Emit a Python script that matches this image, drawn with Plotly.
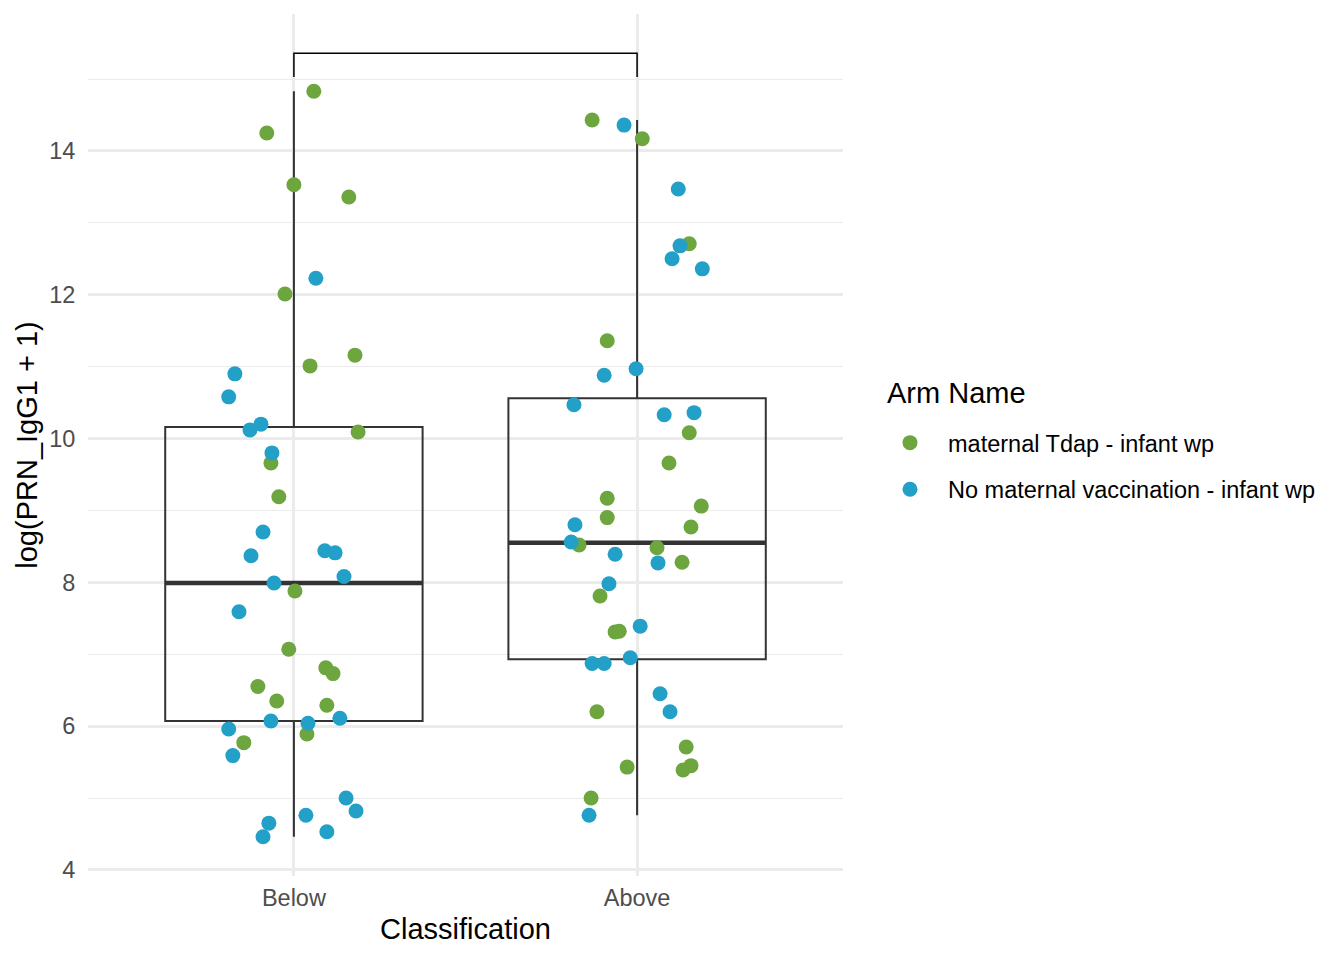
import plotly.graph_objects as go

# ---------------- data ----------------
categories = ["Below", "Above"]
cat_pos = [1, 2]
arms = ["maternal Tdap - infant wp", "No maternal vaccination - infant wp"]
arm_colors = ["#6DA53E", "#23A0C7"]
legend_title = "Arm Name"

# Below / maternal Tdap
below_tdap_y = [14.83, 14.25, 13.53, 13.36, 12.01, 11.01, 11.16, 10.09, 9.66, 9.19,
                7.88, 7.07, 6.81, 6.73, 6.55, 6.35, 6.29, 5.77, 5.89]
below_tdap_jit = [0.058, -0.079, 0.0, 0.160, -0.026, 0.047, 0.178, 0.187, -0.067, -0.044,
                  0.003, -0.015, 0.093, 0.114, -0.105, -0.050, 0.096, -0.146, 0.038]
# Below / No maternal vaccination
below_none_y = [12.23, 10.90, 10.58, 10.12, 10.20, 9.80, 8.70, 8.37, 8.44, 8.41, 8.08, 7.99,
                7.59, 6.07, 5.96, 6.04, 6.11, 5.59, 5.00, 4.82, 4.76, 4.65, 4.46, 4.53]
below_none_jit = [0.064, -0.172, -0.190, -0.128, -0.096, -0.064, -0.090, -0.125, 0.090, 0.120,
                  0.146, -0.058, -0.160, -0.067, -0.190, 0.041, 0.134, -0.178, 0.152, 0.181,
                  0.035, -0.073, -0.090, 0.096]
# Above / maternal Tdap
above_tdap_y = [14.43, 14.17, 12.71, 11.36, 10.08, 9.66, 9.17, 9.06, 8.90, 8.77, 8.52, 8.48,
                8.28, 7.81, 7.31, 7.32, 6.20, 5.71, 5.45, 5.39, 5.43, 5.00]
above_tdap_jit = [-0.131, 0.015, 0.152, -0.087, 0.152, 0.093, -0.087, 0.187, -0.087, 0.157,
                  -0.169, 0.058, 0.131, -0.108, -0.064, -0.052, -0.117, 0.143, 0.157, 0.134,
                  -0.029, -0.134]
# Above / No maternal vaccination
above_none_y = [14.36, 13.47, 12.68, 12.50, 12.36, 10.88, 10.97, 10.47, 10.33, 10.36, 8.80,
                8.56, 8.39, 8.27, 7.98, 7.39, 6.87, 6.87, 6.95, 6.45, 6.20, 4.76]
above_none_jit = [-0.038, 0.120, 0.125, 0.102, 0.190, -0.096, -0.003, -0.184, 0.079, 0.166,
                  -0.181, -0.192, -0.064, 0.061, -0.082, 0.009, -0.131, -0.096, -0.020, 0.067,
                  0.096, -0.140]

# box statistics per category
box_lower = [4.46, 4.76]
box_q1 = [6.07, 6.93]
box_median = [7.99, 8.55]
box_q3 = [10.16, 10.56]
box_upper = [14.83, 14.43]

# significance bracket
bracket_low = 15.03
bracket_high = 15.36

BOX_W = 0.75
FONT = "Liberation Sans, Arial, Helvetica, sans-serif"

fig = go.Figure()

# boxes
fig.add_trace(go.Box(
    x=cat_pos, q1=box_q1, median=box_median, q3=box_q3,
    lowerfence=box_lower, upperfence=box_upper,
    width=BOX_W, whiskerwidth=0, boxpoints=False,
    line=dict(color="#333333", width=2), fillcolor="rgba(0,0,0,0)",
    showlegend=False, hoverinfo="skip"))

# thicker median bars (ggplot fatten)
mx, my = [], []
for p, m in zip(cat_pos, box_median):
    mx += [p - BOX_W / 2, p + BOX_W / 2, None]
    my += [m, m, None]
fig.add_trace(go.Scatter(x=mx, y=my, mode="lines",
                         line=dict(color="#333333", width=4.5),
                         showlegend=False, hoverinfo="skip"))

# bracket
fig.add_trace(go.Scatter(x=[cat_pos[0], cat_pos[0], cat_pos[1], cat_pos[1]],
                         y=[bracket_low, bracket_high, bracket_high, bracket_low],
                         mode="lines", line=dict(color="black", width=1.5),
                         showlegend=False, hoverinfo="skip"))

# points
groups = [
    (arms[0], arm_colors[0], [(0, below_tdap_jit, below_tdap_y), (1, above_tdap_jit, above_tdap_y)]),
    (arms[1], arm_colors[1], [(0, below_none_jit, below_none_y), (1, above_none_jit, above_none_y)]),
]
for name, col, parts in groups:
    xs, ys = [], []
    for ci, jit, yv in parts:
        xs += [cat_pos[ci] + j for j in jit]
        ys += yv
    fig.add_trace(go.Scatter(x=xs, y=ys, mode="markers", name=name, legendgroup=name,
                             marker=dict(color=col, size=15, line=dict(width=0))))

fig.add_annotation(text=legend_title, xref="paper", yref="paper",
                   x=1.0556, y=0.5603, xanchor="left", yanchor="middle",
                   showarrow=False, font=dict(size=29, color="black"))

fig.update_layout(
    width=1344, height=960,
    margin=dict(l=80, r=509, t=6, b=92),
    paper_bgcolor="white", plot_bgcolor="white",
    font=dict(family=FONT, size=23.5, color="black"),
    xaxis=dict(range=[0.4, 2.6], tickvals=cat_pos, ticktext=categories,
               showgrid=True, gridcolor="#EBEBEB", gridwidth=2.5, zeroline=False,
               ticks="outside", ticklen=1, tickcolor="rgba(0,0,0,0)",
               tickfont=dict(size=23.5, color="#4D4D4D"),
               title=dict(text="Classification", font=dict(size=29, color="black"), standoff=8)),
    yaxis=dict(range=[3.915, 15.905], tickvals=[4, 6, 8, 10, 12, 14],
               showgrid=True, gridcolor="#EBEBEB", gridwidth=2.5, zeroline=False,
               ticks="outside", ticklen=7, tickcolor="rgba(0,0,0,0)",
               tickfont=dict(size=23.5, color="#4D4D4D"),
               minor=dict(dtick=1, tick0=4, showgrid=True, gridcolor="#EBEBEB", gridwidth=1.3),
               title=dict(text="log(PRN_IgG1 + 1)", font=dict(size=29, color="black"), standoff=3)),
    legend=dict(x=1.0384, y=0.528, xanchor="left", yanchor="top",
                font=dict(size=23.5, color="black"),
                traceorder="grouped", tracegroupgap=13, itemwidth=66,
                bgcolor="rgba(0,0,0,0)"),
    showlegend=True,
)

fig.write_html("out.html")
